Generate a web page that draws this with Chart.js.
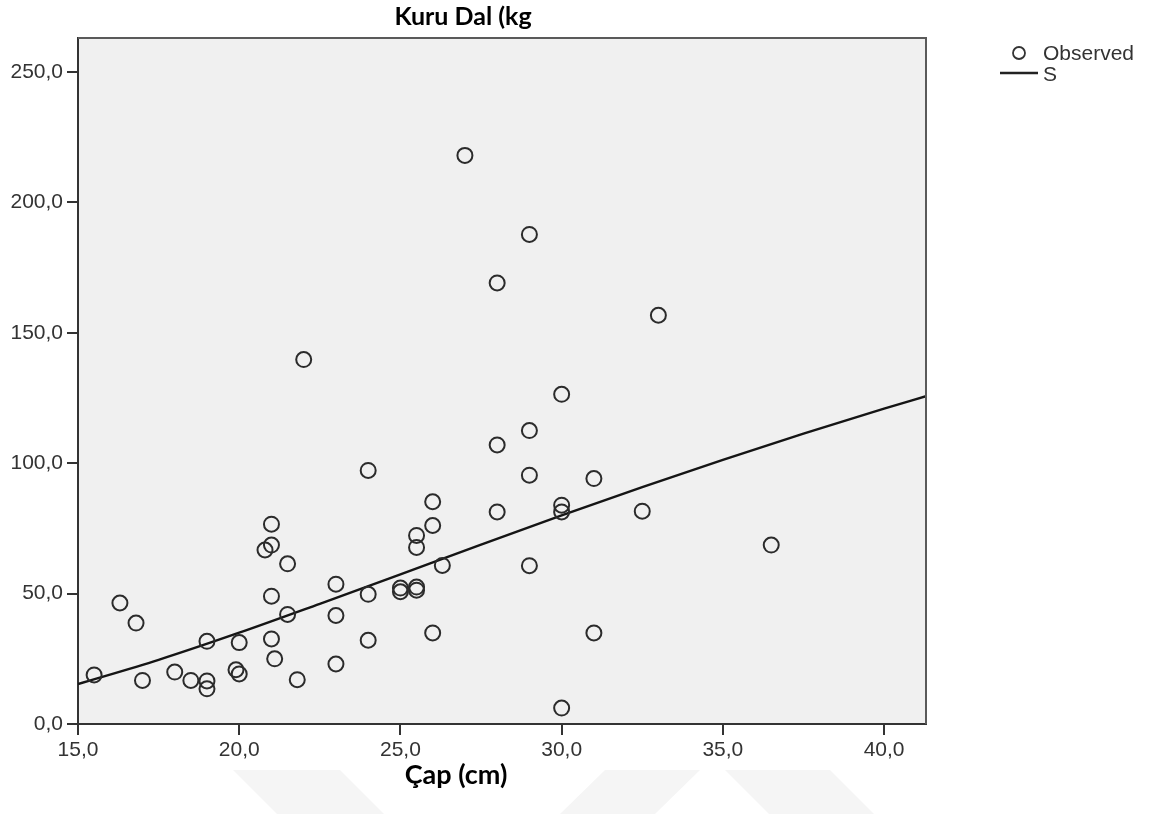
<!DOCTYPE html>
<html>
<head>
<meta charset="utf-8">
<script src="https://cdn.jsdelivr.net/npm/chart.js@4"></script>
<style>
  html, body { margin: 0; background: #fff; }
  #wrap { width: 1152px; height: 814px; }
</style>
</head>
<body>
<div id="wrap"><canvas id="chart" width="1152" height="814"></canvas></div>
<script>
// observed trees: diameter (cm) vs dry branch mass (kg)
const capCm = [
  15.5, 16.3, 16.8, 17.0, 18.0, 18.5, 19.0, 19.0, 19.0, 19.9,
  20.0, 20.0, 20.8, 21.0, 21.0, 21.0, 21.0, 21.1, 21.5, 21.5,
  21.8, 22.0, 23.0, 23.0, 23.0, 24.0, 24.0, 24.0, 25.0, 25.0,
  25.5, 25.5, 25.5, 25.5, 26.0, 26.0, 26.0, 26.3, 27.0, 28.0,
  28.0, 28.0, 29.0, 29.0, 29.0, 29.0, 30.0, 30.0, 30.0, 30.0,
  31.0, 31.0, 32.5, 33.0, 36.5,
];
const kuruDal = [
  18.8, 46.4, 38.7, 16.7, 19.9, 16.7, 31.7, 16.5, 13.5, 20.8,
  19.2, 31.2, 66.7, 68.6, 76.6, 49.0, 32.6, 25.0, 61.4, 42.0,
  17.0, 139.7, 53.6, 41.6, 23.0, 97.2, 49.7, 32.1, 52.1, 50.7,
  52.5, 51.3, 72.3, 67.7, 85.2, 76.1, 34.9, 60.8, 218.0, 169.1,
  107.0, 81.3, 187.7, 112.5, 95.4, 60.7, 126.4, 83.9, 81.3, 6.1,
  94.1, 34.9, 81.6, 156.7, 68.6,
];

// fitted S curve, read along the x axis
const curveX = [15, 17.5, 20, 22.5, 25, 27.5, 30, 32.5, 35, 37.5, 40, 41.3];
const curveY = [15.3, 24.6, 35.0, 46.1, 57.4, 68.8, 80.0, 90.8, 101.3, 111.3, 120.9, 125.7];

const xTicks = [15, 20, 25, 30, 35, 40];
const yTicks = [0, 50, 100, 150, 200, 250];

const fmt = v => v.toFixed(1).replace('.', ',');
const tickFont = { family: 'Liberation Sans, Arial, sans-serif', size: 21 };

const decor = {
  id: 'decor',
  beforeDraw(chart) {
    const { ctx, chartArea: a } = chart;
    ctx.save();
    // faint watermark bands under the axis
    ctx.fillStyle = '#f5f5f5';
    const bands = [
      [[233, 770], [340, 770], [384, 814], [277, 814]],
      [[560, 814], [605, 770], [700, 770], [655, 814]],
      [[725, 770], [830, 770], [874, 814], [769, 814]],
    ];
    bands.forEach(b => {
      ctx.beginPath();
      b.forEach(([x, y], i) => (i ? ctx.lineTo(x, y) : ctx.moveTo(x, y)));
      ctx.closePath();
      ctx.fill();
    });
    ctx.fillStyle = '#f0f0f0';
    ctx.fillRect(a.left, a.top, a.right - a.left, a.bottom - a.top);
    ctx.restore();
  },
  afterDraw(chart) {
    const { ctx, chartArea: a } = chart;
    ctx.save();
    ctx.strokeStyle = '#5a5a5a';
    ctx.lineWidth = 2;
    ctx.beginPath();
    ctx.moveTo(a.left, a.top);
    ctx.lineTo(a.right, a.top);
    ctx.lineTo(a.right, a.bottom);
    ctx.stroke();

    // axis title
    ctx.fillStyle = '#000';
    ctx.font = 'bold 27px Lato, sans-serif';
    ctx.textAlign = 'center';
    ctx.textBaseline = 'middle';
    ctx.fillText('Çap (cm)', 456, 775);

    // legend
    ctx.font = '21px Liberation Sans, Arial, sans-serif';
    ctx.textAlign = 'left';
    ctx.fillStyle = '#333';
    ctx.strokeStyle = '#333';
    ctx.lineWidth = 1.8;
    ctx.beginPath();
    ctx.arc(1019, 53, 6, 0, Math.PI * 2);
    ctx.stroke();
    ctx.fillText('Observed', 1043, 54);
    ctx.strokeStyle = '#222';
    ctx.lineWidth = 2.4;
    ctx.beginPath();
    ctx.moveTo(1000, 73);
    ctx.lineTo(1038, 73);
    ctx.stroke();
    ctx.fillText('S', 1043, 75);
    ctx.restore();
  },
};

new Chart(document.getElementById('chart'), {
  data: {
    datasets: [
      {
        type: 'scatter',
        label: 'Observed',
        data: capCm.map((x, i) => ({ x, y: kuruDal[i] })),
        pointRadius: 7.5,
        pointHoverRadius: 7.5,
        pointBorderWidth: 2,
        borderColor: '#2b2b2b',
        backgroundColor: 'rgba(0,0,0,0)',
      },
      {
        type: 'line',
        label: 'S',
        data: curveX.map((x, i) => ({ x, y: curveY[i] })),
        borderColor: '#151515',
        borderWidth: 2.4,
        pointRadius: 0,
        cubicInterpolationMode: 'monotone',
        fill: false,
      },
    ],
  },
  options: {
    responsive: false,
    animation: false,
    devicePixelRatio: 1,
    layout: { padding: { left: 0, top: 0, right: 226, bottom: 50 } },
    plugins: {
      legend: { display: false },
      tooltip: { enabled: false },
      title: {
        display: true,
        text: 'Kuru Dal (kg',
        color: '#000',
        font: { family: 'Lato, sans-serif', size: 25, weight: 'bold' },
        padding: { top: 2, bottom: 6 },
      },
    },
    scales: {
      x: {
        type: 'linear',
        min: 15,
        max: 41.3,
        afterBuildTicks: s => { s.ticks = xTicks.map(value => ({ value })); },
        afterFit: s => { s.height = 40; },
        grid: { drawOnChartArea: false, drawTicks: true, tickLength: 11, color: '#333', lineWidth: 2 },
        border: { display: true, color: '#333', width: 2 },
        ticks: { color: '#333', font: tickFont, padding: 3, maxRotation: 0, callback: fmt },
      },
      y: {
        type: 'linear',
        min: 0,
        max: 263,
        afterBuildTicks: s => { s.ticks = yTicks.map(value => ({ value })); },
        afterFit: s => { s.width = 78; },
        grid: { drawOnChartArea: false, drawTicks: true, tickLength: 11, color: '#333', lineWidth: 2 },
        border: { display: true, color: '#333', width: 2 },
        ticks: { color: '#333', font: tickFont, padding: 4, callback: fmt },
      },
    },
  },
  plugins: [decor],
});
</script>
</body>
</html>
